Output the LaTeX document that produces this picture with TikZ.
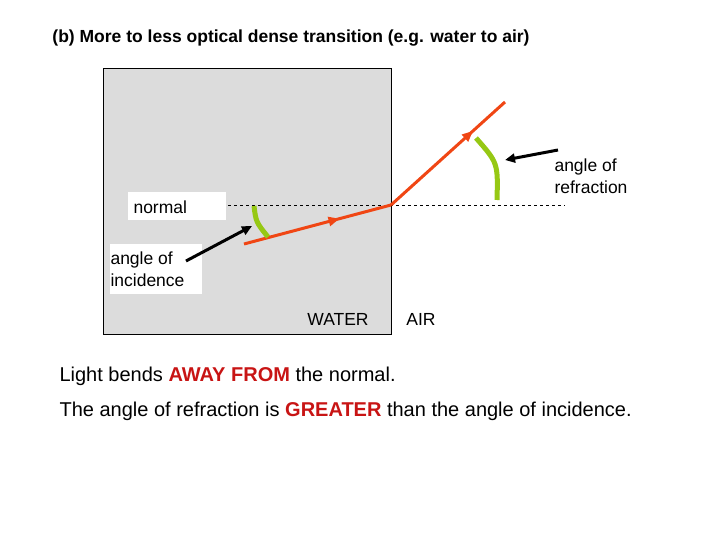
\documentclass[tikz,border=0pt]{standalone}
\usepackage{fontspec}
\setmainfont{Liberation Sans}
\usetikzlibrary{decorations.markings,arrows.meta}
\definecolor{ray}{RGB}{240,70,20}
\definecolor{arcg}{RGB}{150,200,20}
\definecolor{txtred}{RGB}{200,20,20}
\begin{document}
\begin{tikzpicture}[x=1pt,y=-1pt,
  raystyle/.style={draw=ray,line width=3pt,postaction={decorate},decoration={markings,mark=at position 0.65 with {\arrow{Triangle[length=11pt,width=9pt]}}}},
  arcstyle/.style={draw=arcg,line width=5pt},
  pointer/.style={draw=black,line width=3pt,-{Triangle[length=10pt,width=9pt]}},
  lab/.style={font=\fontsize{17.5}{22}\selectfont,align=left},
  whitebox/.style={fill=white,lab,inner sep=0pt}]
\useasboundingbox (0,0) rectangle (720,540);
\node[font=\bfseries\fontsize{17.5}{20}\selectfont] (title) at (291,38) {(b) More to less optical dense transition (e.g. water to air)};
\node[draw=black,fill={rgb,255:red,220;green,220;blue,220},minimum width=288pt,minimum height=266pt,anchor=north west,inner sep=0pt] (water) at (103,68) {};
\coordinate (nl) at (228,205);
\coordinate (nr) at (565,205);
\coordinate (p) at (391,205);
\draw[dashed,line width=0.8pt] (nl) -- (nr);
\coordinate (s) at (244,244);
\coordinate (e) at (505,102);
\draw[raystyle] (s) -- (p);
\draw[ray,line width=3pt,postaction={decorate},decoration={markings,mark=at position 0.72 with {\arrow{Triangle[length=11pt,width=9pt]}}}] (p) -- (e);
\coordinate (a1) at (254,206);
\coordinate (a2) at (268,237);
\draw[arcstyle] (a1) .. controls (256,222) .. (a2);
\coordinate (b1) at (476,138);
\coordinate (b2) at (497,200);
\draw[arcstyle] (b1) .. controls (498,163) .. (b2);
\node[fill=white,minimum width=98pt,minimum height=28pt] (normalbox) at (177,206) {};
\node[lab,anchor=west] (normal) at (130,207) {normal};
\node[fill=white,minimum width=92pt,minimum height=50pt] (incbox) at (156,269) {};
\node[lab,anchor=west] (inc) at (107,269) {angle of\\incidence};
\node[lab,anchor=west] (refr) at (551,176) {angle of\\refraction};
\coordinate (t1) at (252,226);
\coordinate (t2) at (505,160);
\draw[pointer] (186,261) -- (t1);
\draw[pointer] (558,150) -- (t2);
\node[lab] (wl) at (338,319) {WATER};
\node[lab] (al) at (421,319) {AIR};
\node[font=\fontsize{20}{24}\selectfont,anchor=west] (l1) at (56,376) {Light bends \textcolor{txtred}{\bfseries AWAY FROM} the normal.};
\node[font=\fontsize{20}{24}\selectfont,anchor=west] (l2) at (56,411) {The angle of refraction is \textcolor{txtred}{\bfseries GREATER} than the angle of incidence.};
\end{tikzpicture}
\end{document}
